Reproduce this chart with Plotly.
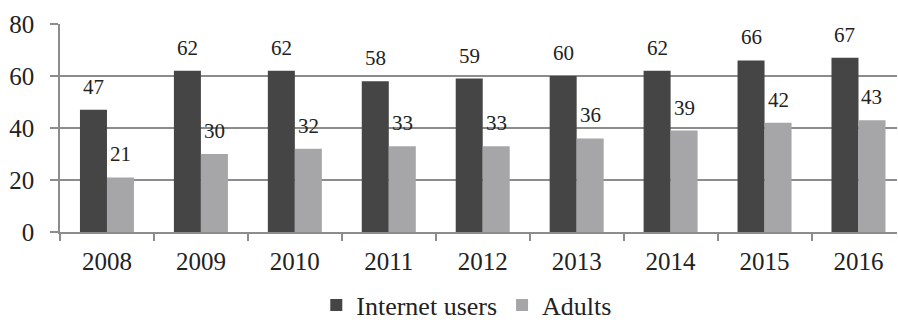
import plotly.graph_objects as go

years = ["2008", "2009", "2010", "2011", "2012", "2013", "2014", "2015", "2016"]
internet_users = [47, 62, 62, 58, 59, 60, 62, 66, 67]
adults = [21, 30, 32, 33, 33, 36, 39, 42, 43]
y_ticks = [0, 20, 40, 60, 80]

DARK = "#454545"
LIGHT = "#a6a6a8"
GRID = "#8c8c8c"
FONT = "Liberation Serif"

idx = list(range(len(years)))
bounds = [i - 0.5 for i in idx] + [idx[-1] + 0.5]

fig = go.Figure()
fig.add_trace(go.Bar(x=idx, y=internet_users, name="Internet users",
                     marker=dict(color=DARK, line=dict(width=0))))
fig.add_trace(go.Bar(x=idx, y=adults, name="Adults",
                     marker=dict(color=LIGHT, line=dict(width=0))))

HALF = 0.2875 / 2  # half of one bar's width (in category units)
for i, v in zip(idx, internet_users):
    fig.add_annotation(x=i - HALF, y=v, xref="x", yref="y", text=str(v),
                       showarrow=False, yshift=23,
                       font=dict(family=FONT, size=21, color="#222"))
for i, v in zip(idx, adults):
    fig.add_annotation(x=i + HALF, y=v, xref="x", yref="y", text=str(v),
                       showarrow=False, yshift=23,
                       font=dict(family=FONT, size=21, color="#222"))

fig.update_layout(
    width=898, height=324,
    margin=dict(l=60, r=1, t=24, b=92),
    paper_bgcolor="white", plot_bgcolor="white",
    barmode="group", bargap=0.425, bargroupgap=0,
    font=dict(family=FONT, size=25, color="#222"),
    legend=dict(orientation="h", x=0.486, xanchor="center", yref="container",
                y=0.058, yanchor="middle",
                font=dict(family=FONT, size=26, color="#222")),
    showlegend=True,
)
fig.update_xaxes(range=[-0.5, 8.41], tickvals=idx, ticktext=years,
                 ticks="outside", ticklen=0, tickcolor=GRID,
                 minor=dict(tickvals=bounds, ticks="outside", ticklen=7,
                            tickcolor=GRID, tickwidth=1.5, showgrid=False),
                 showline=True, linecolor=GRID, linewidth=1.5,
                 showgrid=False, zeroline=False, ticklabelstandoff=6,
                 tickfont=dict(family=FONT, size=25, color="#222"))
fig.update_yaxes(range=[0, 80], tickvals=y_ticks, ticks="outside", ticklen=8,
                 tickcolor=GRID, tickwidth=1.5,
                 showline=True, linecolor=GRID, linewidth=1.5,
                 showgrid=True, gridcolor=GRID, gridwidth=1.5, zeroline=False,
                 ticklabelstandoff=11,
                 tickfont=dict(family=FONT, size=25, color="#222"))

fig.write_html("out.html")
